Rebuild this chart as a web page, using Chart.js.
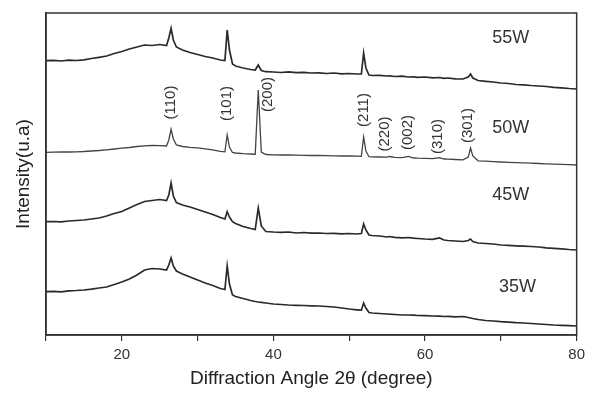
<!DOCTYPE html>
<html>
<head>
<meta charset="utf-8">
<script src="https://cdn.jsdelivr.net/npm/chart.js@4.4.0/dist/chart.umd.min.js"></script>
<style>
  html, body { margin: 0; padding: 0; background: #fff; }
</style>
</head>
<body>
<canvas id="xrdChart" width="590" height="394"></canvas>
<script>
// 2-theta positions shared by all four patterns
const angles = [10, 11, 12, 13, 14, 15, 16, 17, 18, 19, 20, 21, 22, 23, 24, 25, 25.9, 26.2, 26.5, 26.8,
    27.2, 28, 29, 30, 31, 32, 33, 33.6, 33.9, 34.2, 34.6, 35, 36, 37, 37.6, 38.0, 38.4, 39, 40, 41,
    42, 43, 44, 45, 46, 47, 48, 49, 50, 51, 51.6, 51.9, 52.2, 52.6, 53, 54, 55, 55.3, 56, 57,
    57.8, 58.5, 59, 60, 61, 61.9, 62.5, 63, 64, 65, 65.7, 66.0, 66.3, 67, 68, 69, 70, 71, 72, 73,
    74, 75, 76, 77, 78, 79, 80];

// intensities (arbitrary units, already stacked)
const w55 = [274.3, 274.7, 274, 274.8, 274.5, 275.2, 276.5, 277.7, 279, 281.5,
    283.5, 286, 288, 290, 289.5, 290.5, 289.5, 297, 306.7, 295,
    288, 285, 282.5, 280.5, 278.5, 277, 275, 274.5, 305, 285,
    271, 269, 267, 265.5, 265, 270, 264.5, 263.3, 263, 262.5,
    263.2, 262.3, 262.7, 262, 262.2, 261.5, 262, 261.2, 261.5, 261,
    261, 282, 267, 260, 259.5, 259.7, 259, 259.2, 258.5, 258.8,
    258, 258.2, 257.7, 258, 257.2, 257.5, 256.7, 257, 256.2, 256,
    258, 261, 257, 254.5, 253.7, 253, 252, 251.5, 250.5, 250.2,
    249.5, 249, 248.5, 247.7, 247.2, 246.5, 246];
const w50 = [182.7, 182.8, 183, 183, 183.2, 183.5, 184, 184.5, 185.2, 186,
    186.8, 187.5, 188.5, 189.2, 189.5, 189.3, 189, 195, 205.7, 196,
    190, 188.5, 187.7, 187.2, 186.2, 185.2, 183.7, 183.2, 200, 188,
    182.5, 182, 181.4, 181, 180.8, 245, 183, 180.5, 180.2, 180,
    180, 179.8, 179.7, 179.5, 179.5, 179.3, 179.2, 179, 179, 178.8,
    178.7, 198, 184, 178.3, 178.2, 178, 177.8, 178.5, 177.6, 177.4,
    178.7, 177, 176.8, 176.6, 176.4, 177.4, 176, 175.8, 175.5, 175.2,
    178, 187, 179, 174.2, 173.8, 173.4, 173, 172.7, 172.4, 172.1,
    171.8, 171.5, 171.2, 170.9, 170.6, 170.3, 170];
const w45 = [113.3, 113.5, 113.2, 114, 114.5, 115, 116, 117, 119, 121.5,
    123.5, 127, 130.5, 133.5, 134.5, 135.5, 134.5, 140, 152, 139,
    132.5, 130, 128, 125.5, 123, 120.5, 117.5, 116, 123.3, 118,
    113.3, 111.5, 108.5, 106.5, 105.5, 127, 109, 103.5, 103, 102.7,
    103, 102, 102.5, 101.8, 102, 101.5, 101.7, 101.2, 101.5, 101,
    101.5, 111, 105, 100, 99.5, 99, 98, 98.5, 97.7, 97.2,
    97.5, 96.8, 96.5, 96, 95.7, 97, 95, 94.5, 94, 93.5,
    94.5, 96, 93.5, 92, 91.5, 91, 90, 89.7, 89.2, 88.8,
    88.5, 88, 87.2, 86.7, 86.2, 85.5, 85];
const w35 = [43.3, 43.7, 43.2, 44.2, 44.5, 45, 45.8, 47, 48, 50.5,
    53, 56, 60, 65, 66.5, 66, 65, 70, 77, 69,
    64, 61, 58, 55, 52, 49.5, 46.5, 45.5, 69, 51,
    40, 38.5, 36.5, 34.5, 33.5, 33, 32.7, 32, 31, 30.5,
    30, 29.7, 29.5, 29.2, 29, 28.5, 28, 27, 26, 25.2,
    24.8, 32, 27, 22.5, 22, 21.5, 21, 20.8, 20.5, 20,
    20, 19.8, 19.5, 19.3, 19, 18.8, 18.5, 18.7, 18.2, 18.5,
    17.5, 17, 16.5, 15.5, 14.5, 14, 13.3, 12.8, 12.3, 12,
    11.5, 11, 10.5, 10, 9.7, 9.3, 9];

const seriesNames = ['55W', '50W', '45W', '35W'];
const peakLabels = ['(110)', '(101)', '(200)', '(211)', '(220)', '(002)', '(310)', '(301)'];

// where the annotations sit, in data units
const peakLabelAngle = [26.5, 33.9, 39.3, 51.9, 54.7, 57.7, 61.7, 65.6];
const peakLabelLevel = [232.5, 231.5, 240.5, 225, 201, 202.5, 198.5, 209.5];
const nameAngle = [71.3, 71.3, 71.3, 72.2];
const nameLevel = [296.5, 206.7, 140, 48.3];

const FONT = "'Liberation Sans', Arial, sans-serif";

function toPoints(ys) {
    return angles.map((a, i) => ({ x: a, y: ys[i] }));
}

const labelsPlugin = {
    id: 'xrdLabels',
    afterDatasetsDraw(chart) {
        const { ctx, chartArea, scales: { x, y } } = chart;
        ctx.save();
        // frame round the plot
        ctx.strokeStyle = '#333';
        ctx.lineWidth = 1.5;
        ctx.strokeRect(chartArea.left, chartArea.top, chartArea.right - chartArea.left, chartArea.bottom - chartArea.top);

        ctx.fillStyle = '#333';
        ctx.textAlign = 'center';
        ctx.textBaseline = 'middle';

        // peak indices, rotated
        ctx.font = '15px ' + FONT;
        peakLabels.forEach((t, i) => {
            ctx.save();
            ctx.translate(x.getPixelForValue(peakLabelAngle[i]), y.getPixelForValue(peakLabelLevel[i]));
            ctx.rotate(-Math.PI / 2);
            ctx.fillText(t, 0, 0);
            ctx.restore();
        });

        // power labels
        ctx.font = '18px ' + FONT;
        seriesNames.forEach((t, i) => {
            ctx.fillText(t, x.getPixelForValue(nameAngle[i]), y.getPixelForValue(nameLevel[i]));
        });
        ctx.restore();
    }
};

const datasets = [w55, w50, w45, w35].map((ys, i) => ({
    label: seriesNames[i],
    data: toPoints(ys),
    borderColor: i === 1 ? '#444' : '#2a2a2a',
    borderWidth: i === 1 ? 1.3 : 1.7,
    pointRadius: 0,
    tension: 0
}));

new Chart(document.getElementById('xrdChart').getContext('2d'), {
    type: 'line',
    data: { datasets: datasets },
    options: {
        responsive: false,
        animation: false,
        layout: { padding: { top: 13, right: 11, left: 0, bottom: 0 } },
        plugins: {
            legend: { display: false },
            tooltip: { enabled: false }
        },
        scales: {
            x: {
                type: 'linear',
                min: 10,
                max: 80,
                afterFit: (scale) => { scale.height = 59; },
                grid: {
                    display: true,
                    drawOnChartArea: false,
                    drawTicks: true,
                    tickLength: 6,
                    color: '#333',
                    lineWidth: 1.2
                },
                border: { display: true, color: '#333', width: 1.5 },
                ticks: {
                    stepSize: 10,
                    padding: 5,
                    maxRotation: 0,
                    color: '#333',
                    font: { size: 15, family: FONT },
                    callback: (v) => (v % 20 === 0 ? v : '')
                },
                title: {
                    display: true,
                    text: 'Diffraction Angle 2\u03b8 (degree)',
                    color: '#222',
                    padding: { top: 0, bottom: 4 },
                    font: { size: 19, family: FONT }
                }
            },
            y: {
                min: 0,
                max: 322,
                afterFit: (scale) => { scale.width = 46; },
                grid: { display: false },
                border: { display: true, color: '#333', width: 1.5 },
                ticks: { display: false },
                title: {
                    display: true,
                    text: 'Intensity(u.a)',
                    color: '#222',
                    padding: { top: 12, bottom: 0 },
                    font: { size: 19, family: FONT }
                }
            }
        }
    },
    plugins: [labelsPlugin]
});
</script>
</body>
</html>
